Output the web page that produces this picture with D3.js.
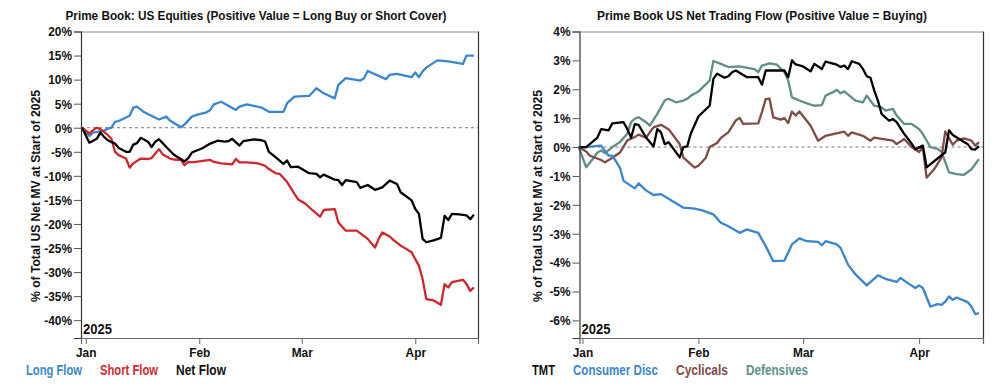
<!DOCTYPE html>
<html>
<head>
<meta charset="utf-8">
<script src="https://cdn.jsdelivr.net/npm/d3@7"></script>
<style>
  html, body { margin: 0; padding: 0; background: #fff; }
  svg { display: block; }
  text { font-family: "Liberation Sans", Arial, sans-serif; font-weight: bold; }
</style>
</head>
<body>
<svg id="chart" width="1004" height="388"></svg>
<script>
// ---------------- DATA ----------------
const leftTitle = "Prime Book: US Equities (Positive Value = Long Buy or Short Cover)";
const rightTitle = "Prime Book US Net Trading Flow (Positive Value = Buying)";
const yAxisTitle = "% of Total US Net MV at Start of 2025";
const yearLabel = "2025";
const monthTicks = ["2025-01-01", "2025-02-01", "2025-03-01", "2025-04-01"];
const monthLabels = ["Jan", "Feb", "Mar", "Apr"];
const leftYTicks = [-40, -35, -30, -25, -20, -15, -10, -5, 0, 5, 10, 15, 20];
const rightYTicks = [-6, -5, -4, -3, -2, -1, 0, 1, 2, 3, 4];
const leftSeriesNames = ["Long Flow", "Short Flow", "Net Flow"];
const rightSeriesNames = ["TMT", "Consumer Disc", "Cyclicals", "Defensives"];

// Left chart: cumulative flow, % of total US net MV
const longFlow = [
  ["2024-12-31",0],["2025-01-02",-1.7],["2025-01-03",-1.0],["2025-01-06",-0.6],["2025-01-07",-0.2],
  ["2025-01-08",0.0],["2025-01-09",1.2],["2025-01-10",1.4],["2025-01-13",2.5],["2025-01-14",4.2],
  ["2025-01-15",4.4],["2025-01-17",3.2],["2025-01-21",1.7],["2025-01-23",2.3],["2025-01-24",1.5],
  ["2025-01-27",0.1],["2025-01-28",0.7],["2025-01-30",2.3],["2025-01-31",2.6],["2025-02-03",3.2],
  ["2025-02-04",3.7],["2025-02-05",4.85],["2025-02-07",5.4],["2025-02-11",3.7],["2025-02-12",4.4],
  ["2025-02-14",4.85],["2025-02-18",4.2],["2025-02-20",3.3],["2025-02-24",3.3],["2025-02-25",5.1],
  ["2025-02-27",6.45],["2025-03-03",6.6],["2025-03-05",8.2],["2025-03-07",7.15],["2025-03-10",6.1],
  ["2025-03-11",8.9],["2025-03-13",10.3],["2025-03-17",9.8],["2025-03-18",10.3],["2025-03-19",11.8],
  ["2025-03-24",10.1],["2025-03-25",11.0],["2025-03-27",11.2],["2025-03-31",10.5],["2025-04-01",11.5],
  ["2025-04-02",10.5],["2025-04-03",11.7],["2025-04-04",12.5],["2025-04-07",14.0],["2025-04-10",13.8],
  ["2025-04-14",13.25],["2025-04-15",15.0],["2025-04-17",15.0]
];
const shortFlow = [
  ["2024-12-31",0],["2025-01-02",-1.2],["2025-01-03",-0.5],["2025-01-04",0],["2025-01-05",-0.3],
  ["2025-01-07",-1.5],["2025-01-08",-2.3],["2025-01-09",-5.0],["2025-01-10",-5.7],["2025-01-12",-6.4],
  ["2025-01-13",-8.3],["2025-01-14",-7.4],["2025-01-16",-6.4],["2025-01-18",-6.5],["2025-01-19",-6.3],
  ["2025-01-21",-4.45],["2025-01-22",-5.5],["2025-01-24",-6.4],["2025-01-25",-6.6],["2025-01-27",-6.7],
  ["2025-01-28",-7.8],["2025-01-29",-7.1],["2025-01-30",-7.2],["2025-02-02",-6.9],["2025-02-04",-6.7],
  ["2025-02-05",-7.1],["2025-02-07",-7.4],["2025-02-10",-7.6],["2025-02-11",-6.5],["2025-02-12",-7.2],
  ["2025-02-14",-7.2],["2025-02-17",-7.4],["2025-02-19",-7.9],["2025-02-20",-8.6],["2025-02-22",-9.5],
  ["2025-02-23",-9.6],["2025-02-25",-11.3],["2025-02-27",-13.75],["2025-02-28",-14.9],["2025-03-02",-15.8],
  ["2025-03-04",-17.2],["2025-03-06",-18.5],["2025-03-07",-17.1],["2025-03-10",-16.9],["2025-03-11",-19.7],
  ["2025-03-13",-21.4],["2025-03-16",-21.4],["2025-03-19",-23.1],["2025-03-21",-24.9],["2025-03-22",-23.1],
  ["2025-03-23",-21.75],["2025-03-25",-22.6],["2025-03-26",-23.3],["2025-03-28",-24.5],["2025-03-31",-25.9],
  ["2025-04-02",-28.7],["2025-04-03",-31.5],["2025-04-04",-35.6],["2025-04-06",-35.9],["2025-04-08",-36.8],
  ["2025-04-09",-32.5],["2025-04-10",-33.2],["2025-04-11",-32.1],["2025-04-14",-31.6],["2025-04-15",-32.5],
  ["2025-04-16",-33.9],["2025-04-17",-33.2]
];
const netFlow = [
  ["2024-12-31",0],["2025-01-02",-3.1],["2025-01-04",-2.3],["2025-01-05",-1.0],["2025-01-06",-1.9],
  ["2025-01-07",-2.6],["2025-01-09",-3.3],["2025-01-10",-4.2],["2025-01-12",-5.0],["2025-01-13",-5.0],
  ["2025-01-14",-3.5],["2025-01-15",-3.2],["2025-01-16",-2.1],["2025-01-18",-2.9],["2025-01-19",-4.0],
  ["2025-01-20",-2.9],["2025-01-21",-2.4],["2025-01-23",-4.0],["2025-01-25",-5.55],["2025-01-28",-7.0],
  ["2025-01-29",-6.3],["2025-01-30",-5.15],["2025-02-02",-4.2],["2025-02-04",-3.3],["2025-02-06",-2.7],
  ["2025-02-08",-2.9],["2025-02-09",-2.8],["2025-02-10",-2.3],["2025-02-12",-3.7],["2025-02-13",-2.8],
  ["2025-02-16",-2.4],["2025-02-18",-2.6],["2025-02-19",-2.9],["2025-02-20",-5.0],["2025-02-21",-5.6],
  ["2025-02-24",-7.5],["2025-02-25",-6.8],["2025-02-26",-8.2],["2025-02-28",-8.1],["2025-03-03",-9.45],
  ["2025-03-05",-9.6],["2025-03-06",-10.3],["2025-03-07",-9.75],["2025-03-10",-10.8],["2025-03-11",-10.9],
  ["2025-03-12",-11.9],["2025-03-13",-10.9],["2025-03-16",-11.3],["2025-03-17",-12.5],["2025-03-19",-11.9],
  ["2025-03-21",-12.9],["2025-03-23",-12.4],["2025-03-25",-11.0],["2025-03-27",-11.7],["2025-03-28",-13.4],
  ["2025-03-31",-15.1],["2025-04-01",-16.9],["2025-04-02",-17.9],["2025-04-03",-23.1],["2025-04-04",-23.8],
  ["2025-04-06",-23.4],["2025-04-08",-22.9],["2025-04-09",-18.3],["2025-04-10",-19.2],["2025-04-11",-17.9],
  ["2025-04-13",-18.0],["2025-04-15",-18.2],["2025-04-16",-19.0],["2025-04-17",-18.1]
];

// Right chart: net trading flow by sector
const tmt = [
  ["2024-12-31",0],["2025-01-02",0.0],["2025-01-05",0.33],["2025-01-06",0.62],["2025-01-08",0.58],
  ["2025-01-09",0.82],["2025-01-12",0.86],["2025-01-13",0.62],["2025-01-14",0.33],["2025-01-15",0.79],
  ["2025-01-16",0.77],["2025-01-18",0.33],["2025-01-20",0.02],["2025-01-21",0.62],["2025-01-22",0.51],
  ["2025-01-23",0.10],["2025-01-24",0.17],["2025-01-25",0.0],["2025-01-27",-0.36],["2025-01-28",0.0],
  ["2025-01-29",0.02],["2025-01-30",0.48],["2025-02-01",1.06],["2025-02-04",1.43],["2025-02-05",2.36],
  ["2025-02-06",2.54],["2025-02-08",2.40],["2025-02-09",2.45],["2025-02-10",2.59],["2025-02-11",2.65],
  ["2025-02-14",2.42],["2025-02-17",2.42],["2025-02-18",2.16],["2025-02-19",2.65],["2025-02-24",2.65],
  ["2025-02-25",2.42],["2025-02-26",3.0],["2025-02-27",2.86],["2025-03-01",2.79],["2025-03-03",2.62],
  ["2025-03-04",2.88],["2025-03-06",2.70],["2025-03-07",2.96],["2025-03-10",2.85],["2025-03-11",2.77],
  ["2025-03-12",2.82],["2025-03-13",2.70],["2025-03-14",2.97],["2025-03-16",2.88],["2025-03-17",2.70],
  ["2025-03-18",2.45],["2025-03-19",2.40],["2025-03-20",1.96],["2025-03-21",1.60],["2025-03-22",1.14],
  ["2025-03-24",0.91],["2025-03-25",0.97],["2025-03-26",0.86],["2025-03-28",0.46],["2025-03-30",0.12],
  ["2025-03-31",-0.08],["2025-04-02",0.05],["2025-04-03",-0.70],["2025-04-08",-0.18],["2025-04-09",0.58],
  ["2025-04-10",0.42],["2025-04-14",0.10],["2025-04-15",-0.07],["2025-04-16",-0.09],["2025-04-17",0.03]
];
const consumerDisc = [
  ["2024-12-31",0],["2025-01-02",0],["2025-01-05",0.04],["2025-01-06",0.05],["2025-01-07",-0.13],
  ["2025-01-08",-0.30],["2025-01-09",-0.30],["2025-01-11",-0.71],["2025-01-12",-1.17],["2025-01-15",-1.43],
  ["2025-01-16",-1.26],["2025-01-18",-1.50],["2025-01-20",-1.66],["2025-01-22",-1.63],["2025-01-25",-1.87],
  ["2025-01-28",-2.10],["2025-01-31",-2.13],["2025-02-02",-2.19],["2025-02-05",-2.33],["2025-02-07",-2.62],
  ["2025-02-09",-2.74],["2025-02-12",-2.97],["2025-02-14",-2.85],["2025-02-15",-2.89],["2025-02-17",-2.97],
  ["2025-02-19",-3.43],["2025-02-21",-3.95],["2025-02-24",-3.93],["2025-02-26",-3.37],["2025-02-28",-3.16],
  ["2025-03-02",-3.26],["2025-03-05",-3.28],["2025-03-06",-3.40],["2025-03-07",-3.26],["2025-03-10",-3.37],
  ["2025-03-11",-3.49],["2025-03-13",-4.07],["2025-03-15",-4.41],["2025-03-18",-4.79],["2025-03-21",-4.44],
  ["2025-03-23",-4.56],["2025-03-26",-4.67],["2025-03-27",-4.53],["2025-03-29",-4.71],["2025-03-31",-4.88],
  ["2025-04-01",-4.79],["2025-04-02",-4.88],["2025-04-04",-5.52],["2025-04-06",-5.44],["2025-04-07",-5.46],
  ["2025-04-08",-5.35],["2025-04-09",-5.17],["2025-04-10",-5.29],["2025-04-11",-5.21],["2025-04-14",-5.37],
  ["2025-04-15",-5.52],["2025-04-16",-5.78],["2025-04-17",-5.75]
];
const cyclicals = [
  ["2024-12-31",0],["2025-01-02",-0.15],["2025-01-03",-0.30],["2025-01-06",-0.45],["2025-01-07",-0.53],
  ["2025-01-09",-0.37],["2025-01-11",-0.19],["2025-01-13",0.23],["2025-01-15",0.35],["2025-01-16",0.43],
  ["2025-01-18",0.32],["2025-01-19",0.51],["2025-01-20",0.68],["2025-01-22",0.77],["2025-01-24",0.62],
  ["2025-01-25",0.45],["2025-01-27",0.10],["2025-01-28",-0.37],["2025-01-31",-0.71],["2025-02-01",-0.65],
  ["2025-02-03",-0.37],["2025-02-04",0.0],["2025-02-06",0.14],["2025-02-07",0.32],["2025-02-09",0.51],
  ["2025-02-11",0.92],["2025-02-12",1.01],["2025-02-13",0.80],["2025-02-17",0.82],["2025-02-18",1.22],
  ["2025-02-19",1.66],["2025-02-20",1.68],["2025-02-21",1.03],["2025-02-23",0.95],["2025-02-24",1.0],
  ["2025-02-25",0.83],["2025-02-26",1.23],["2025-02-27",1.09],["2025-02-28",1.23],["2025-03-03",0.74],
  ["2025-03-05",0.22],["2025-03-07",0.39],["2025-03-09",0.45],["2025-03-12",0.53],["2025-03-13",0.39],
  ["2025-03-14",0.51],["2025-03-17",0.39],["2025-03-19",0.22],["2025-03-20",0.33],["2025-03-22",0.28],
  ["2025-03-25",0.22],["2025-03-26",0.10],["2025-03-28",0.28],["2025-03-30",0.0],["2025-04-01",-0.17],
  ["2025-04-02",0.0],["2025-04-03",-1.06],["2025-04-05",-0.77],["2025-04-07",-0.37],["2025-04-08",0.54],
  ["2025-04-10",0.08],["2025-04-11",0.22],["2025-04-13",0.30],["2025-04-15",0.22],["2025-04-16",0.05],
  ["2025-04-17",0.17]
];
const defensives = [
  ["2024-12-31",0],["2025-01-02",-0.70],["2025-01-04",-0.37],["2025-01-05",-0.19],["2025-01-06",-0.12],
  ["2025-01-07",-0.21],["2025-01-09",0.0],["2025-01-11",0.17],["2025-01-13",0.46],["2025-01-14",0.86],
  ["2025-01-15",0.98],["2025-01-16",1.03],["2025-01-18",0.86],["2025-01-19",0.74],["2025-01-21",1.15],
  ["2025-01-23",1.61],["2025-01-24",1.67],["2025-01-26",1.55],["2025-01-28",1.61],["2025-01-29",1.67],
  ["2025-01-30",1.78],["2025-02-01",1.92],["2025-02-02",2.05],["2025-02-04",2.30],["2025-02-05",2.98],
  ["2025-02-07",2.88],["2025-02-09",2.77],["2025-02-12",2.79],["2025-02-16",2.70],["2025-02-17",2.59],
  ["2025-02-18",2.82],["2025-02-20",2.90],["2025-02-22",2.85],["2025-02-24",2.59],["2025-02-25",2.30],
  ["2025-02-26",1.72],["2025-02-28",1.61],["2025-03-02",1.51],["2025-03-04",1.43],["2025-03-06",1.45],
  ["2025-03-07",1.78],["2025-03-09",1.90],["2025-03-10",1.98],["2025-03-11",1.86],["2025-03-12",1.93],
  ["2025-03-15",1.61],["2025-03-17",1.55],["2025-03-18",1.78],["2025-03-20",1.43],["2025-03-22",1.37],
  ["2025-03-23",1.26],["2025-03-25",1.32],["2025-03-26",1.09],["2025-03-28",0.80],["2025-03-30",0.80],
  ["2025-04-01",0.62],["2025-04-02",0.45],["2025-04-04",0.0],["2025-04-06",-0.06],["2025-04-07",-0.17],
  ["2025-04-09",-0.88],["2025-04-11",-0.94],["2025-04-13",-0.96],["2025-04-15",-0.77],["2025-04-17",-0.42]
];

// ---------------- DRAWING ----------------
const parse = d3.timeParse("%Y-%m-%d");
const svg = d3.select("#chart");

// horizontally condense text around its anchor (mimics a condensed typeface)
function condense(sel, f) {
  sel.each(function () {
    const t = d3.select(this);
    const ax = +(t.attr("x") || 0);
    t.attr("transform", `translate(${ax},0) scale(${f},1) translate(${-ax},0)`);
  });
}
// force a text to a given rendered width
function fitWidth(t, w) {
  t.attr("textLength", w).attr("lengthAdjust", "spacingAndGlyphs");
}

function drawPanel(cfg) {
  const { plot, xDomain, yDomain, yTicks, series, colors, title, titleX, titleW,
          legend, yTitleX, yTitleY } = cfg;
  const x = d3.scaleTime().domain(xDomain).range([plot.left, plot.right]);
  const y = d3.scaleLinear().domain(yDomain).range([plot.bottom, plot.top]);
  const g = svg.append("g");

  // zero line
  g.append("line")
    .attr("x1", plot.left).attr("x2", plot.right)
    .attr("y1", y(0)).attr("y2", y(0))
    .attr("stroke", "#7a7a7a").attr("stroke-width", 1).attr("stroke-dasharray", "3,3");

  // series lines
  const line = d3.line().x(d => x(parse(d[0]))).y(d => y(d[1]));
  series.forEach((s, i) => {
    g.append("path").datum(s)
      .attr("fill", "none").attr("stroke", colors[i])
      .attr("stroke-width", 2.3).attr("stroke-linejoin", "round")
      .attr("d", line);
  });

  // frame
  g.append("line").attr("x1", plot.left).attr("x2", plot.right).attr("y1", plot.top + 0.5).attr("y2", plot.top + 0.5)
    .attr("stroke", "#8a8a8a").attr("stroke-width", 1);
  g.append("line").attr("x1", plot.right + 0.5).attr("x2", plot.right + 0.5).attr("y1", plot.top).attr("y2", plot.bottom)
    .attr("stroke", "#333").attr("stroke-width", 1.2);

  // y axis
  const yAxis = d3.axisLeft(y).tickValues(yTicks).tickSize(7).tickPadding(2).tickFormat(d => d + "%");
  const ya = g.append("g").attr("transform", `translate(${plot.left},0)`).call(yAxis);
  ya.select(".domain").attr("stroke", "#333").attr("stroke-width", 1.2);
  ya.selectAll(".tick line").attr("stroke", "#555");
  const yt = ya.selectAll("text").attr("font-size", 13.5).attr("fill", "#111")
    .style("font-family", '"Liberation Sans", Arial, sans-serif').style("font-weight", "bold");
  condense(yt, 0.88);

  // x axis
  const xAxis = d3.axisBottom(x).tickValues(monthTicks.map(parse)).tickSize(6).tickPadding(3)
    .tickFormat((d, i) => monthLabels[i]);
  const xa = g.append("g").attr("transform", `translate(0,${plot.bottom})`).call(xAxis);
  xa.select(".domain").attr("stroke", "#666").attr("stroke-width", 1.2);
  xa.selectAll(".tick line").attr("stroke", "#666");
  const xt = xa.selectAll("text").attr("font-size", 13.5).attr("fill", "#111")
    .style("font-family", '"Liberation Sans", Arial, sans-serif').style("font-weight", "bold");
  condense(xt, 0.88);

  // year label
  const yl = g.append("text").attr("x", plot.left + 2).attr("y", plot.bottom - 4)
    .attr("font-size", 14.5).attr("fill", "#111").text(yearLabel);
  fitWidth(yl, 29);

  // title
  const tt = g.append("text").attr("x", titleX - titleW / 2).attr("y", 19.5)
    .attr("font-size", 12.5).attr("fill", "#111").text(title);
  fitWidth(tt, titleW);

  // y title
  const yTitle = g.append("text").attr("transform", `translate(${yTitleX},${yTitleY}) rotate(-90)`)
    .attr("x", -106).attr("font-size", 13.5).attr("fill", "#111").text(yAxisTitle);
  fitWidth(yTitle, 212);

  // legend
  legend.forEach(l => {
    const lt = g.append("text").attr("x", l.x).attr("y", 375).attr("font-size", 14)
      .attr("fill", l.color).text(l.name);
    fitWidth(lt, l.w);
  });
}

drawPanel({
  plot: { left: 81, right: 478, top: 31.5, bottom: 338 },
  xDomain: [new Date(2024, 11, 30, 17), new Date(2025, 3, 18, 3)],
  yDomain: [-43.7, 20],
  yTicks: leftYTicks,
  series: [longFlow, shortFlow, netFlow],
  colors: ["#3a86cf", "#d0262b", "#000000"],
  title: leftTitle, titleX: 256, titleW: 381,
  yTitleX: 40, yTitleY: 196,
  legend: [
    { name: leftSeriesNames[0], x: 26, w: 56, color: "#3b87cd" },
    { name: leftSeriesNames[1], x: 100, w: 58, color: "#cf2a2a" },
    { name: leftSeriesNames[2], x: 176, w: 50, color: "#111" }
  ]
});

drawPanel({
  plot: { left: 579.5, right: 983, top: 31.5, bottom: 338 },
  xDomain: [new Date(2024, 11, 31, 5), new Date(2025, 3, 18, 2)],
  yDomain: [-6.61, 4],
  yTicks: rightYTicks,
  series: [defensives, cyclicals, consumerDisc, tmt],
  colors: ["#5e8e88", "#7f4b46", "#3a86cc", "#000000"],
  title: rightTitle, titleX: 762, titleW: 330,
  yTitleX: 542, yTitleY: 196,
  legend: [
    { name: rightSeriesNames[0], x: 532, w: 23, color: "#111" },
    { name: rightSeriesNames[1], x: 573, w: 85, color: "#3a86cc" },
    { name: rightSeriesNames[2], x: 676, w: 52, color: "#7f4b46" },
    { name: rightSeriesNames[3], x: 746, w: 62, color: "#5e8e88" }
  ]
});
</script>
</body>
</html>
